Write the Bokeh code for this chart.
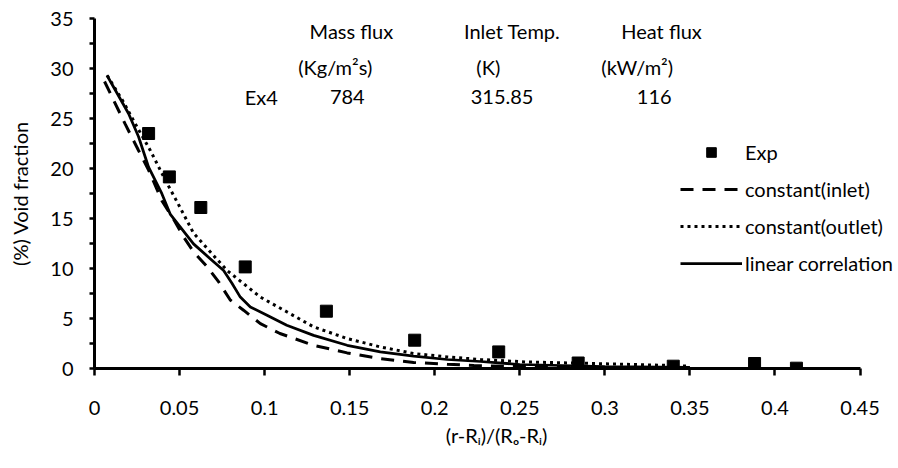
from bokeh.plotting import figure
from bokeh.models import (FixedTicker, Label, Legend, LegendItem, Range1d)
from bokeh.embed import file_html
from bokeh.resources import INLINE

FONT = "Lato"

# ---- data ----
exp_x = [0.0318, 0.0440, 0.0625, 0.0886, 0.1363, 0.1882, 0.2376, 0.2843, 0.3402, 0.3880, 0.4126]
exp_y = [23.5, 19.16, 16.1, 10.16, 5.73, 2.83, 1.66, 0.55, 0.23, 0.5, 0.03]

inlet_x = [0.0059, 0.018, 0.0259, 0.0318, 0.0396, 0.0465, 0.0524, 0.0582, 0.0661, 0.073,
           0.0798, 0.0876, 0.0975, 0.109, 0.1288, 0.1485, 0.168, 0.1876, 0.2073, 0.223,
           0.24, 0.26, 0.28]
inlet_y = [28.7, 24.46, 21.8, 19.84, 16.79, 14.92, 13.15, 11.67, 10.2, 8.66,
           6.85, 5.83, 4.49, 3.5, 2.32, 1.56, 0.99, 0.6, 0.42, 0.3,
           0.23, 0.17, 0.12]

outlet_x = [0.0075, 0.0171, 0.024, 0.0328, 0.0416, 0.0494, 0.0582, 0.0779, 0.0975, 0.113,
            0.1288, 0.1485, 0.168, 0.1876, 0.2073, 0.2269, 0.2543, 0.2935, 0.3328, 0.35]
outlet_y = [29.3, 26.63, 24.46, 21.81, 18.85, 16.39, 13.54, 9.8, 7.14, 5.67,
            4.16, 3.0, 2.16, 1.5, 1.16, 0.9, 0.65, 0.5, 0.33, 0.23]

linear_x = [0.0073, 0.020, 0.0259, 0.0318, 0.0396, 0.0446, 0.0582, 0.068, 0.0759, 0.0808,
            0.0857, 0.0916, 0.1014, 0.113, 0.1288, 0.1485, 0.168, 0.1876, 0.2073, 0.2269,
            0.25, 0.3, 0.35]
linear_y = [29.33, 25.5, 23.18, 20.13, 17.48, 15.41, 12.46, 10.98, 9.8, 8.52,
            7.14, 6.16, 5.33, 4.33, 3.31, 2.32, 1.66, 1.23, 0.9, 0.7,
            0.4, 0.2, 0.12]

x_ticks = [0, 0.05, 0.1, 0.15, 0.2, 0.25, 0.3, 0.35, 0.4, 0.45]
x_tick_labels = ["0", "0.05", "0.1", "0.15", "0.2", "0.25", "0.3", "0.35", "0.4", "0.45"]
y_ticks = [0, 5, 10, 15, 20, 25, 30, 35]
y_minor = [2.5, 7.5, 12.5, 17.5, 22.5, 27.5, 32.5]

# annotation table: (text, x, y)
notes = [
    ("Mass flux", 0.151, 33.8),
    ("(Kg/m\u00b2s)", 0.1415, 30.2),
    ("Ex4", 0.098, 27.2),
    ("784", 0.1486, 27.2),
    ("Inlet Temp.", 0.2455, 33.8),
    ("(K)", 0.2315, 30.2),
    ("315.85", 0.2396, 27.2),
    ("Heat flux", 0.3333, 33.8),
    ("(kW/m\u00b2)", 0.319, 30.2),
    ("116", 0.329, 27.2),
]

p = figure(width=898, height=468, output_backend="svg", toolbar_location=None,
           x_range=Range1d(0, 0.4726), y_range=Range1d(0, 35),
           min_border_left=94, min_border_right=0, min_border_top=18, min_border_bottom=100)
p.outline_line_color = None
p.xgrid.visible = False
p.ygrid.visible = False
p.background_fill_color = "white"
p.border_fill_color = "white"

r_exp = p.scatter(exp_x, exp_y, marker="square", size=12, color="black")
r_in = p.line(inlet_x, inlet_y, line_color="black", line_width=3, line_dash="13 9")
r_out = p.line(outlet_x, outlet_y, line_color="black", line_width=3, line_dash="3 4")
r_lin = p.line(linear_x, linear_y, line_color="black", line_width=2.75)

for ax in (p.xaxis[0], p.yaxis[0]):
    ax.axis_line_width = 3
    ax.axis_line_color = "black"
    ax.major_tick_line_width = 2.5
    ax.minor_tick_line_width = 2.5
    ax.major_tick_in = 0
    ax.minor_tick_in = 0
    ax.major_label_text_font = FONT
    ax.major_label_text_font_size = "20px"
    ax.major_label_text_color = "black"
    ax.axis_label_text_font = FONT
    ax.axis_label_text_font_size = "20px"
    ax.axis_label_text_font_style = "normal"
    ax.axis_label_text_color = "black"

p.xaxis.ticker = FixedTicker(ticks=x_ticks)
p.xaxis.bounds = (0, 0.45)
p.xaxis.major_label_overrides = {t: l for t, l in zip(x_ticks, x_tick_labels)}
p.xaxis.major_tick_out = 7
p.xaxis.minor_tick_out = 0
p.xaxis.major_label_standoff = 25
p.xaxis.axis_label = "(r-R\u1d62)/(R\u2092-R\u1d62)"
p.xaxis.axis_label_standoff = 5

p.yaxis.ticker = FixedTicker(ticks=y_ticks, minor_ticks=y_minor)
p.yaxis.major_tick_out = 5
p.yaxis.minor_tick_out = 5
p.yaxis.major_label_standoff = 16
p.yaxis.axis_label = "(%) Void fraction"
p.yaxis.axis_label_standoff = 15

for txt, x, y in notes:
    p.add_layout(Label(x=x, y=y, text=txt, text_align="center", text_baseline="middle",
                       text_font=FONT, text_font_size="20px", text_color="black"))

legend = Legend(items=[
    LegendItem(label="Exp", renderers=[r_exp]),
    LegendItem(label="constant(inlet)", renderers=[r_in]),
    LegendItem(label="constant(outlet)", renderers=[r_out]),
    LegendItem(label="linear correlation", renderers=[r_lin]),
], location=(586, 93), glyph_width=62, glyph_height=24, label_height=24,
   label_standoff=3, spacing=13, padding=0, margin=0,
   label_text_font=FONT, label_text_font_size="20px", label_text_color="black",
   border_line_color=None, background_fill_alpha=0)
p.add_layout(legend)

open("out.html", "w").write(file_html(p, INLINE))
